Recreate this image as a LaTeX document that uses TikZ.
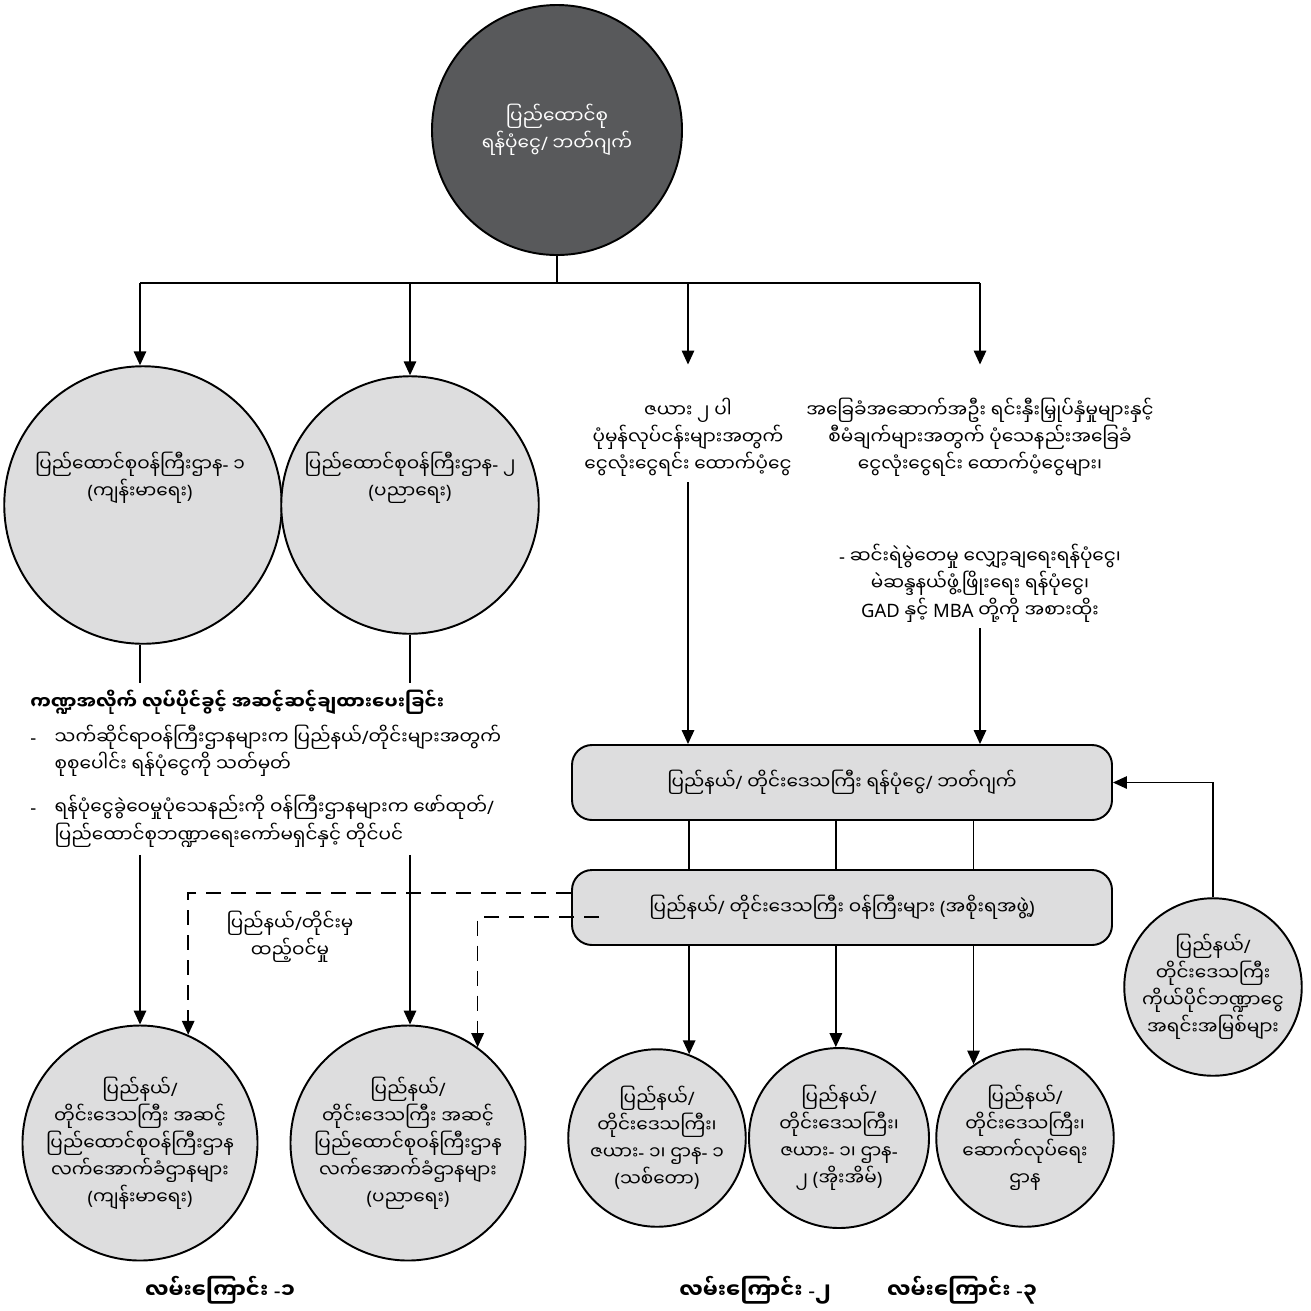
\documentclass[tikz,border=0pt]{standalone}
\usepackage{fontspec}
\newfontfamily\mmfont[Script=Myanmar]{Noto Sans Myanmar UI}
\newfontfamily\latinfont{Noto Sans}
\newcommand\mmslash{{\latinfont/}}
\newcommand\mmdash{{\latinfont-}}
\newcommand\mmlp{{\latinfont(}}
\newcommand\mmrp{{\latinfont)}}
\usepackage{tikz}
\usetikzlibrary{arrows.meta,positioning,calc}
\definecolor{DarkDisc}{RGB}{88,89,91}
\definecolor{LightDisc}{RGB}{221,221,222}

\begin{document}
\begin{tikzpicture}[
  disc/.style={
    draw,
    circle,
    align=center,
    inner sep=0pt,
    fill=LightDisc,
    line width=1.1pt
  },
  panel/.style={
    draw,
    rounded corners=0.4cm,
    minimum width=10.8cm,
    minimum height=1.5cm,
    fill=LightDisc,
    line width=1.1pt
  },
  plain/.style={align=center},
  link/.style={line width=0.85pt},
  arr/.style={-{Triangle[length=2.8mm,width=2.5mm]}, line width=0.85pt},
  dasharr/.style={-{Triangle[length=2.8mm,width=2.5mm]}, dash pattern=on 3mm off 2mm, line width=0.85pt},
  lane/.style={font=\mmfont\bfseries\fontsize{12}{14}\selectfont},
  font=\mmfont\fontsize{10.5}{15.4}\selectfont
]
\useasboundingbox (0,0) rectangle (26.22,-26.2);

% Union level
\node[disc,fill=DarkDisc,text=white,minimum size=5cm] (union) at (11.14,-2.6)
  {ပြည်ထောင်စု\\ရန်ပုံငွေ\mmslash{} ဘတ်ဂျက်};
\coordinate (split) at (11.14,-5.66);

% Ministries and transfers
\node[disc,minimum size=5.55cm] (min1) at (2.86,-10.1) {};
\node[plain] (min1t) at (2.8,-9.55) {ပြည်ထောင်စုဝန်ကြီးဌာန\mmdash{} ၁\\\mmlp{}ကျန်းမာရေး\mmrp};
\node[disc,minimum size=5.15cm] (min2) at (8.2,-10.1) {};
\node[plain] (min2t) at (8.2,-9.55) {ပြည်ထောင်စုဝန်ကြီးဌာန\mmdash{} ၂\\\mmlp{}ပညာရေး\mmrp};
\node[plain] (col3) at (13.76,-8.74) {ဇယား ၂ ပါ\\ပုံမှန်လုပ်ငန်းများအတွက်\\ငွေလုံးငွေရင်း ထောက်ပံ့ငွေ};
\node[plain] (col4) at (19.6,-8.74) {အခြေခံအဆောက်အဦး ရင်းနှီးမြှုပ်နှံမှုများနှင့်\\စီမံချက်များအတွက် ပုံသေနည်းအခြေခံ\\ငွေလုံးငွေရင်း ထောက်ပံ့ငွေများ၊};
\node[plain] (col4b) at (19.6,-11.66) {\mmdash{} ဆင်းရဲမွဲတေမှု လျှော့ချရေးရန်ပုံငွေ၊\\မဲဆန္ဒနယ်ဖွံ့ဖြိုးရေး ရန်ပုံငွေ၊\\{\latinfont GAD} နှင့် {\latinfont MBA} တို့ကို အစားထိုး};

% Sector note
\node[align=left,anchor=north west,inner sep=0.15cm] (note) at (0.45,-13.65) {%
  {\bfseries ကဏ္ဍအလိုက် လုပ်ပိုင်ခွင့် အဆင့်ဆင့်ချထားပေးခြင်း}\\[0.16cm]
  \mmdash\quad သက်ဆိုင်ရာဝန်ကြီးဌာနများက ပြည်နယ်\mmslash{}တိုင်းများအတွက်\\
  \phantom{\mmdash}\quad စုစုပေါင်း ရန်ပုံငွေကို သတ်မှတ်\\[0.32cm]
  \mmdash\quad ရန်ပုံငွေခွဲဝေမှုပုံသေနည်းကို ဝန်ကြီးဌာနများက ဖော်ထုတ်\mmslash\\
  \phantom{\mmdash}\quad ပြည်ထောင်စုဘဏ္ဍာရေးကော်မရှင်နှင့် တိုင်ပင်};

% State / region level
\node[panel] (budget) at (16.84,-15.65) {ပြည်နယ်\mmslash{} တိုင်းဒေသကြီး ရန်ပုံငွေ\mmslash{} ဘတ်ဂျက်};
\node[panel] (cabinet) at (16.84,-18.15) {ပြည်နယ်\mmslash{} တိုင်းဒေသကြီး ဝန်ကြီးများ \mmlp{}အစိုးရအဖွဲ့\mmrp};
\node[disc,minimum size=3.55cm] (own) at (24.26,-19.74) {ပြည်နယ်\mmslash\\တိုင်းဒေသကြီး\\ကိုယ်ပိုင်ဘဏ္ဍာငွေ\\အရင်းအမြစ်များ};
\node[plain] (contrib) at (5.8,-18.74) {ပြည်နယ်\mmslash{}တိုင်းမှ\\ထည့်ဝင်မှု};

% Spending units
\node[disc,minimum size=4.7cm] (unit1) at (2.8,-22.86) {ပြည်နယ်\mmslash\\တိုင်းဒေသကြီး အဆင့်\\ပြည်ထောင်စုဝန်ကြီးဌာန\\လက်အောက်ခံဌာနများ\\\mmlp{}ကျန်းမာရေး\mmrp};
\node[disc,minimum size=4.7cm] (unit2) at (8.16,-22.86) {ပြည်နယ်\mmslash\\တိုင်းဒေသကြီး အဆင့်\\ပြည်ထောင်စုဝန်ကြီးဌာန\\လက်အောက်ခံဌာနများ\\\mmlp{}ပညာရေး\mmrp};
\node[disc,minimum size=3.55cm] (dept1) at (13.14,-22.76) {ပြည်နယ်\mmslash\\တိုင်းဒေသကြီး၊\\ဇယား\mmdash{} ၁၊ ဌာန\mmdash{} ၁\\\mmlp{}သစ်တော\mmrp};
\node[disc,minimum size=3.6cm] (dept2) at (16.78,-22.76) {ပြည်နယ်\mmslash\\တိုင်းဒေသကြီး၊\\ဇယား\mmdash{} ၁၊ ဌာန\mmdash\\၂ \mmlp{}အိုးအိမ်\mmrp};
\node[disc,minimum size=3.55cm] (dept3) at (20.5,-22.76) {ပြည်နယ်\mmslash\\တိုင်းဒေသကြီး၊\\ဆောက်လုပ်ရေး\\ဌာန};

\node[lane] (lane1) at (4.4,-25.8) {လမ်းကြောင်း \mmdash{}၁};
\node[lane] (lane2) at (15.1,-25.8) {လမ်းကြောင်း \mmdash{}၂};
\node[lane] (lane3) at (19.24,-25.8) {လမ်းကြောင်း \mmdash{}၃};

% Connectors
\draw[link] (union.south) -- (split);
\draw[link] (split -| min1t) -- (split -| col4);
\draw[arr] (split -| min1t) -- (min1t |- min1.north);
\draw[arr] (split -| min2) -- (min2.north);
\draw[arr] (split -| col3) -- ([yshift=0.54cm]col3.north);
\draw[arr] (split -| col4) -- ([yshift=0.54cm]col4.north);

\draw[link] (min1t |- min1.south) -- (min1t |- note.north);
\draw[link] (min2.south) -- (min2.south |- note.north);
\draw[arr] (min1t |- note.south) -- (min1t |- unit1.north);
\draw[arr] (min2 |- note.south) -- (min2 |- unit2.north);

\draw[arr] (col3.south) -- (col3.south |- budget.north);
\draw[arr] (col4b.south) -- (col4b.south |- budget.north);

\foreach \dept/\ang in {dept1/69,dept2/92,dept3/125}{
  \draw[link] (budget.south -| \dept.\ang) -- (cabinet.north -| \dept.\ang);
  \draw[arr] (cabinet.south -| \dept.\ang) -- (\dept.\ang);
}

\draw[dasharr] ([yshift=0.29cm]cabinet.west) -| (unit1.66);
\draw[dasharr] ([xshift=0.56cm,yshift=-0.19cm]cabinet.west) -| (unit2.54);
\draw[arr] (own.north) |- (budget.east);
\end{tikzpicture}
\end{document}
